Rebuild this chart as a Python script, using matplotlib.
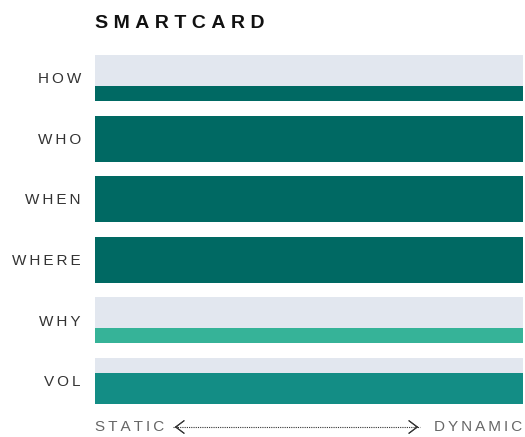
import matplotlib.pyplot as plt

rows = ['HOW', 'WHO', 'WHEN', 'WHERE', 'WHY', 'VOL']
fill = [0.33, 1.0, 1.0, 1.0, 0.33, 0.67]
colors = ['#006963', '#006963', '#006963', '#006963', '#36b398', '#138d85']

plt.rcParams['font.family'] = ['Liberation Sans', 'DejaVu Sans']

def spaced(s, gap='\u2009'):
    return gap.join(s)

fig = plt.figure(figsize=(5.25, 4.37), dpi=100)
ax = fig.add_axes([95 / 525, 1 - 404 / 437, 428 / 525, 349 / 437])

h = 0.76
for i, (name, f, c) in enumerate(zip(rows, fill, colors)):
    ax.barh(i, 1, height=h, color='#e2e7ef', left=0)
    ax.barh(i + h / 2 - f * h / 2, 1, height=f * h, color=c, left=0)
    ax.text(-0.033, i + 0.02, spaced(name), ha='right', va='center', fontsize=11,
            color='#333333')

ax.set_xlim(0, 1)
ax.set_ylim(len(rows) - 1 + h / 2, -h / 2)
ax.axis('off')

fig.text(95 / 525, 1 - 23 / 437, spaced('SMARTCARD', '\u2009\u200a'), fontsize=14,
         fontweight='bold', ha='left', va='center', color='#111111')

# bottom scale
yb = 1 - 427 / 437
fig.text(95 / 525, yb, spaced('STATIC'), fontsize=11, color='#666666',
         ha='left', va='center')
fig.text(522 / 525, yb, spaced('DYNAMIC'), fontsize=11, color='#666666',
         ha='right', va='center')
fig.add_artist(plt.Line2D([173 / 525, 420 / 525], [yb, yb], transform=fig.transFigure,
                          color='#333333', lw=0.8, ls=(0, (1, 1))))
for x0, x1 in [(180 / 525, 172 / 525), (413 / 525, 421 / 525)]:
    fig.add_artist(plt.annotate('', xy=(x1, yb), xytext=(x0, yb), xycoords='figure fraction',
                                arrowprops=dict(arrowstyle='->,head_length=0.6,head_width=0.45',
                                                color='#333333', lw=0.8)))

fig.savefig('out.png', dpi=100)
